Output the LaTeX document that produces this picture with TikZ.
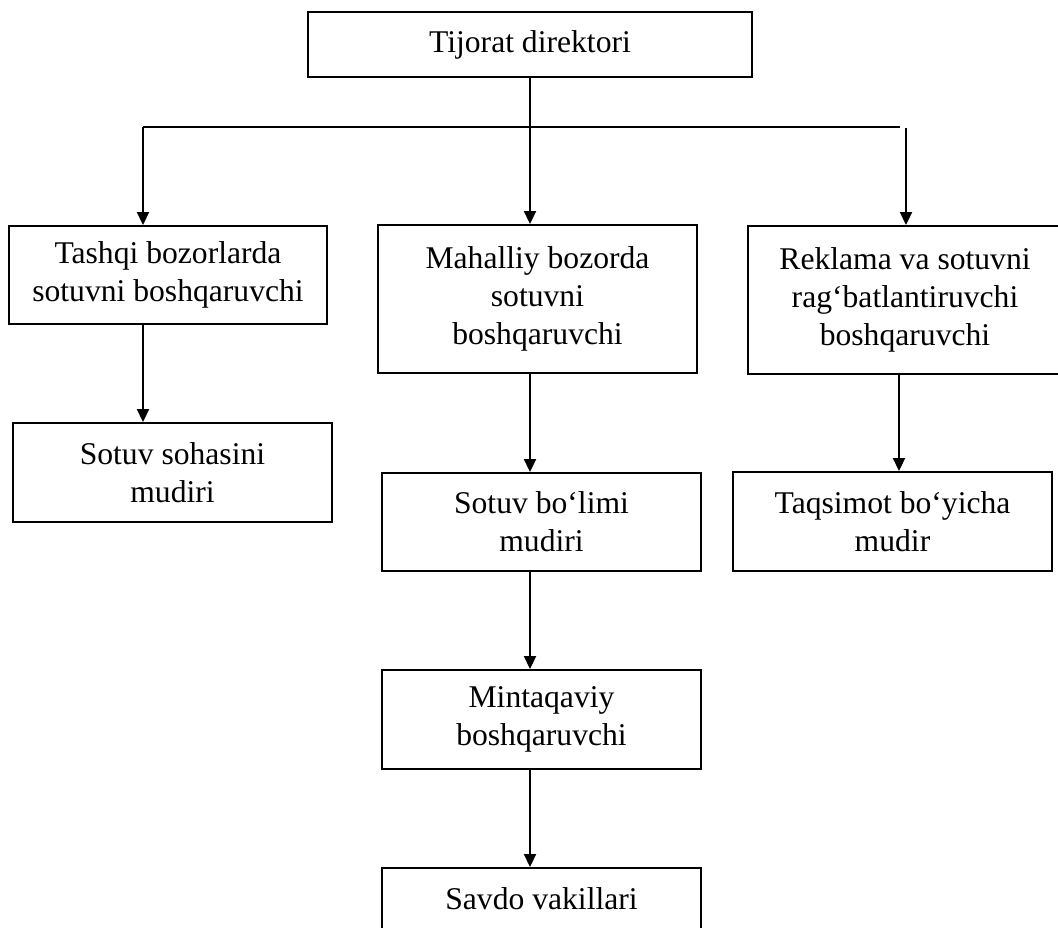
\documentclass[tikz,border=0pt]{standalone}
\usepackage{fontspec}
\setmainfont{Liberation Serif}
\usetikzlibrary{arrows.meta,positioning}
\tikzset{
  boite/.style={draw, line width=1.1pt, align=center, inner sep=0pt,
    font=\fontsize{18}{21.6}\selectfont},
  fleche/.style={line width=1.1pt, -{Triangle[length=0.26cm,width=0.24cm]}},
  trait/.style={line width=1.1pt},
}

\begin{document}
\begin{tikzpicture}[x=0.02cm,y=-0.02cm]
    \useasboundingbox (0,0) rectangle (1058,928);
    % Les boites
    \node[boite, minimum width=8.88cm, minimum height=1.3cm] (tijorat) at (530,44.5) {Tijorat direktori};
    \node[boite, minimum width=6.36cm, minimum height=1.96cm] (tashqi) at (168,275) {Tashqi bozorlarda\\sotuvni boshqaruvchi};
    \node[boite, minimum width=6.38cm, minimum height=2.96cm] (mahalliy) at (537.5,299) {Mahalliy bozorda\\sotuvni\\boshqaruvchi};
    \node[boite, minimum width=6.28cm, minimum height=2.96cm] (reklama) at (905,300) {Reklama va sotuvni\\rag‘batlantiruvchi\\boshqaruvchi};
    \node[boite, minimum width=6.38cm, minimum height=1.98cm] (sohasi) at (172.5,472.5) {Sotuv sohasini\\mudiri};
    \node[boite, minimum width=6.38cm, minimum height=1.96cm] (bolimi) at (541.5,522) {Sotuv bo‘limi\\mudiri};
    \node[boite, minimum width=6.38cm, minimum height=1.98cm] (taqsimot) at (892.5,521.5) {Taqsimot bo‘yicha\\mudir};
    \node[boite, minimum width=6.38cm, minimum height=1.98cm] (mintaqa) at (541.5,719.5) {Mintaqaviy\\boshqaruvchi};
    \node[boite, minimum width=6.38cm, minimum height=1.24cm] (savdo) at (541.5,899) {Savdo vakillari};
    % La ligne horizontale
    \coordinate (busG) at (143,127);
    \coordinate (busM) at (530,127);
    \coordinate (busD) at (900,127);
    \coordinate (descD) at (906,128);
    \coordinate (colD) at (899,0);
    \draw[trait] (tijorat.south) -- (busM);
    \draw[trait] (busG) -- (busD);
    % Les fleches
    \draw[fleche] (busG) -- (busG |- tashqi.north);
    \draw[fleche] (busM) -- (busM |- mahalliy.north);
    \draw[fleche] (descD) -- (descD |- reklama.north);
    \draw[fleche] (busG |- tashqi.south) -- (busG |- sohasi.north);
    \draw[fleche] (busM |- mahalliy.south) -- (busM |- bolimi.north);
    \draw[fleche] (colD |- reklama.south) -- (colD |- taqsimot.north);
    \draw[fleche] (busM |- bolimi.south) -- (busM |- mintaqa.north);
    \draw[fleche] (busM |- mintaqa.south) -- (busM |- savdo.north);
\end{tikzpicture}
\end{document}
